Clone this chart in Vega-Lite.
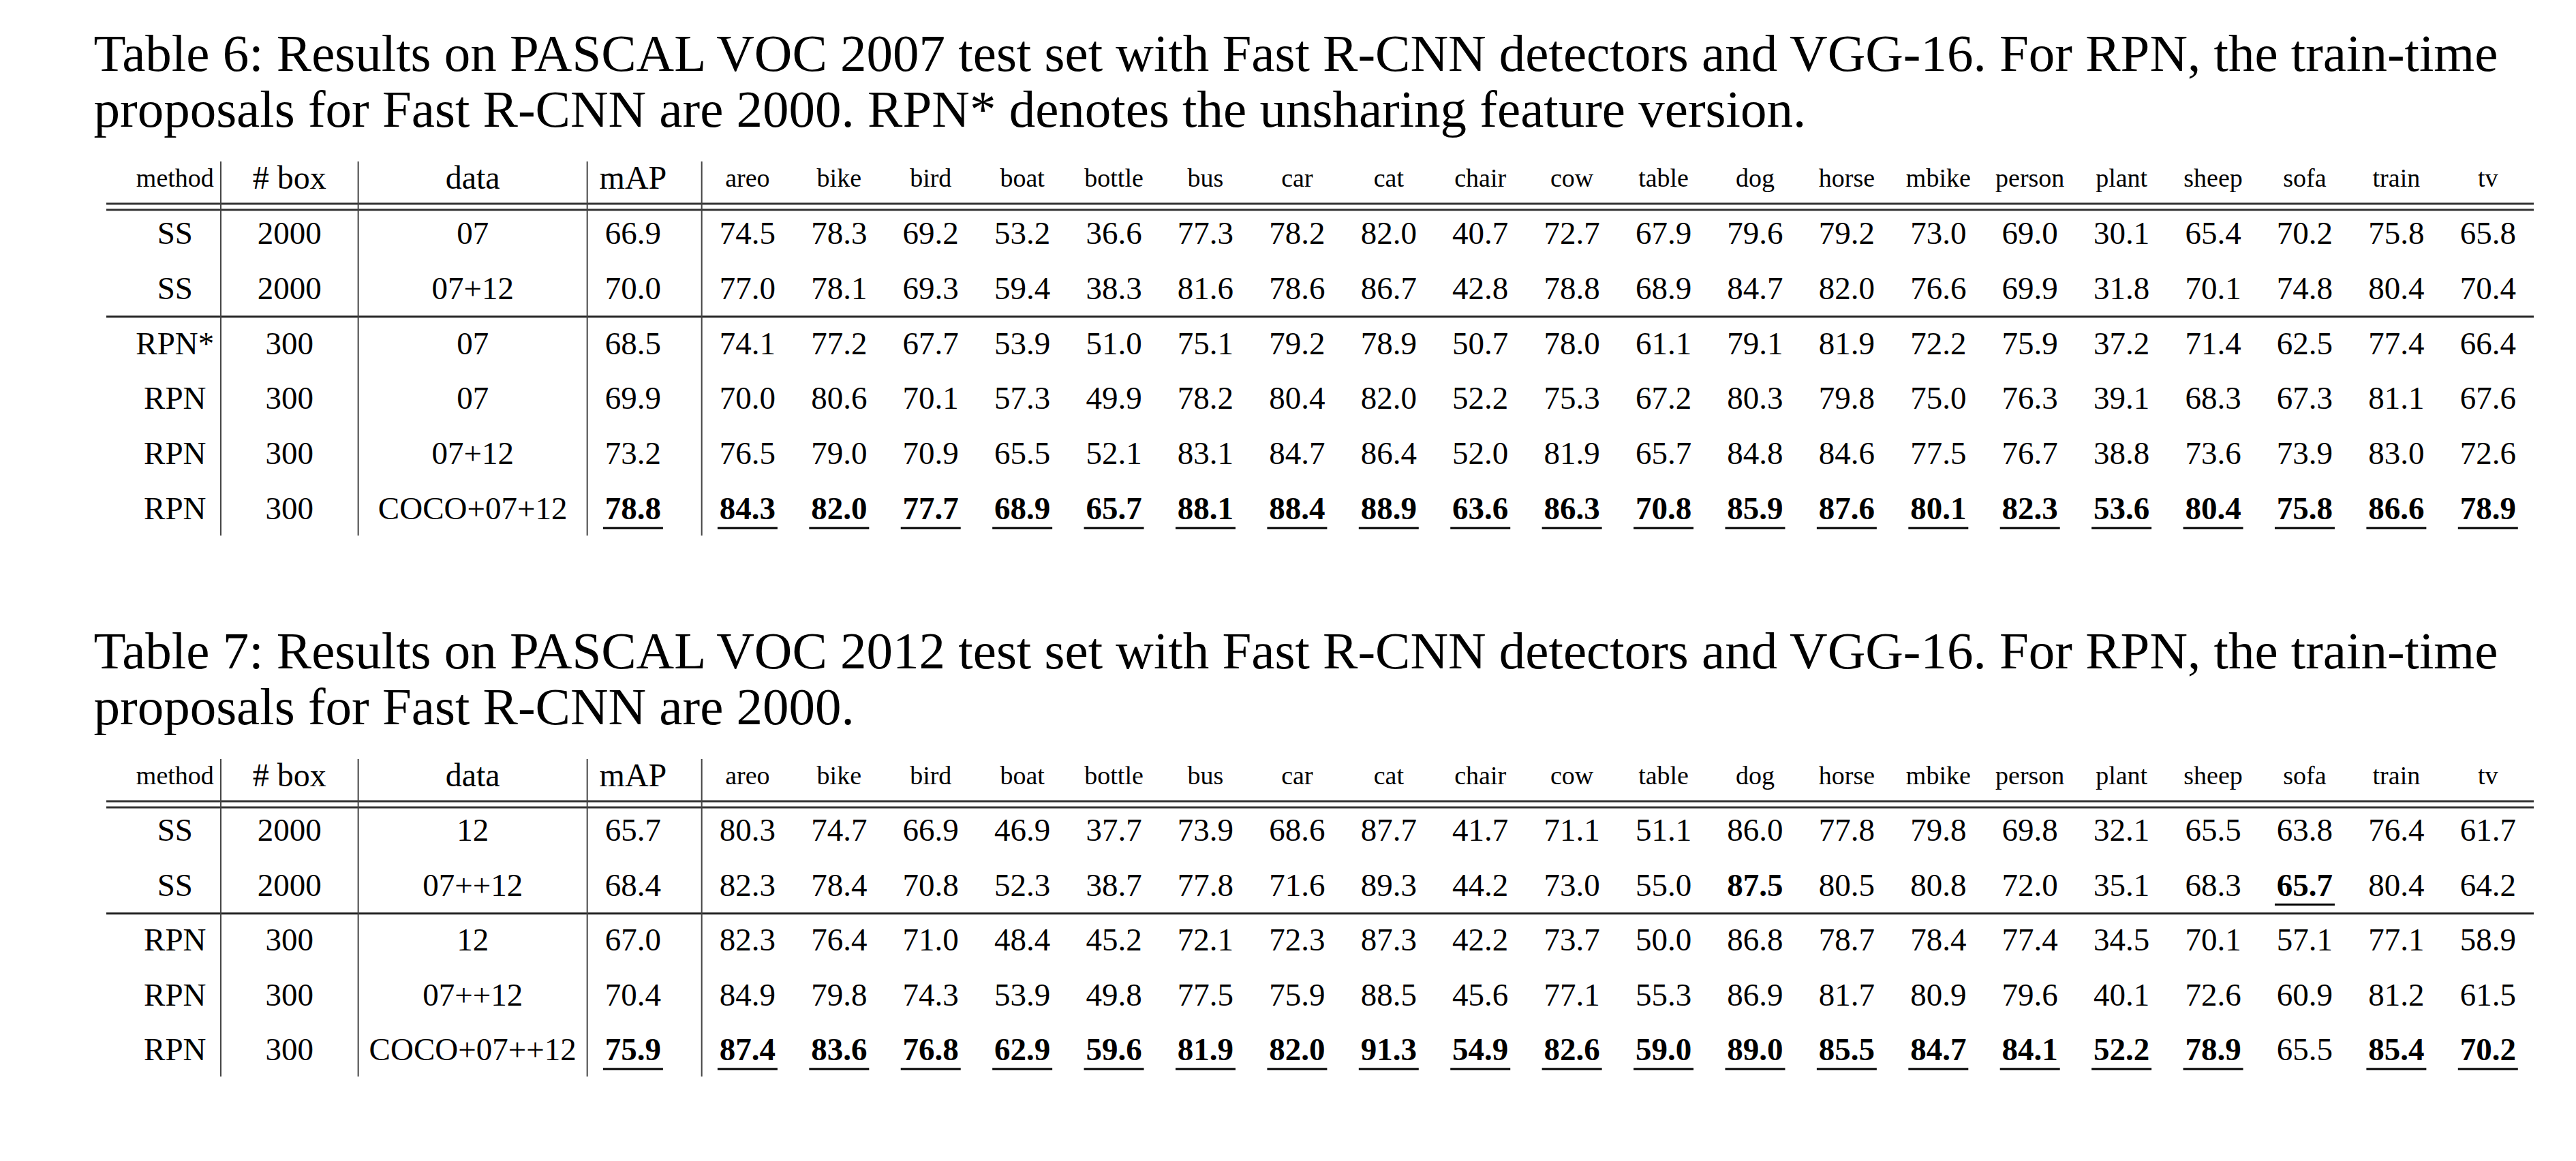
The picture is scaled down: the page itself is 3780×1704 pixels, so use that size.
{
"$schema":"https://vega.github.io/schema/vega-lite/v6.json",
"padding":{"left":137,"top":42,"right":40,"bottom":10},
"background":"white",
"config":{"view":{"stroke":null},"text":{"font":"Liberation Serif","color":"black"},"title":{"font":"Liberation Serif","fontSize":77,"fontWeight":"normal","color":"black","anchor":"start","lineHeight":82,"offset":34,"dx":-17}},
"spacing":132,
"datasets":{
"cols":[{"key":"method","label":"method"},{"key":"box","label":"# box"},{"key":"data","label":"data"},{"key":"mAP","label":"mAP"},{"key":"areo","label":"areo"},{"key":"bike","label":"bike"},{"key":"bird","label":"bird"},{"key":"boat","label":"boat"},{"key":"bottle","label":"bottle"},{"key":"bus","label":"bus"},{"key":"car","label":"car"},{"key":"cat","label":"cat"},{"key":"chair","label":"chair"},{"key":"cow","label":"cow"},{"key":"table","label":"table"},{"key":"dog","label":"dog"},{"key":"horse","label":"horse"},{"key":"mbike","label":"mbike"},{"key":"person","label":"person"},{"key":"plant","label":"plant"},{"key":"sheep","label":"sheep"},{"key":"sofa","label":"sofa"},{"key":"train","label":"train"},{"key":"tv","label":"tv"}],
"seps":[{"v":"v1"},{"v":"v2"},{"v":"v3"},{"v":"v4"}],
"t6":[
{"row":"r1","method":"SS","box":"2000","data":"07","mAP":"66.9","areo":"74.5","bike":"78.3","bird":"69.2","boat":"53.2","bottle":"36.6","bus":"77.3","car":"78.2","cat":"82.0","chair":"40.7","cow":"72.7","table":"67.9","dog":"79.6","horse":"79.2","mbike":"73.0","person":"69.0","plant":"30.1","sheep":"65.4","sofa":"70.2","train":"75.8","tv":"65.8","best":[],"under":[]},
{"row":"r2","method":"SS","box":"2000","data":"07+12","mAP":"70.0","areo":"77.0","bike":"78.1","bird":"69.3","boat":"59.4","bottle":"38.3","bus":"81.6","car":"78.6","cat":"86.7","chair":"42.8","cow":"78.8","table":"68.9","dog":"84.7","horse":"82.0","mbike":"76.6","person":"69.9","plant":"31.8","sheep":"70.1","sofa":"74.8","train":"80.4","tv":"70.4","best":[],"under":[]},
{"row":"r3","method":"RPN*","box":"300","data":"07","mAP":"68.5","areo":"74.1","bike":"77.2","bird":"67.7","boat":"53.9","bottle":"51.0","bus":"75.1","car":"79.2","cat":"78.9","chair":"50.7","cow":"78.0","table":"61.1","dog":"79.1","horse":"81.9","mbike":"72.2","person":"75.9","plant":"37.2","sheep":"71.4","sofa":"62.5","train":"77.4","tv":"66.4","best":[],"under":[]},
{"row":"r4","method":"RPN","box":"300","data":"07","mAP":"69.9","areo":"70.0","bike":"80.6","bird":"70.1","boat":"57.3","bottle":"49.9","bus":"78.2","car":"80.4","cat":"82.0","chair":"52.2","cow":"75.3","table":"67.2","dog":"80.3","horse":"79.8","mbike":"75.0","person":"76.3","plant":"39.1","sheep":"68.3","sofa":"67.3","train":"81.1","tv":"67.6","best":[],"under":[]},
{"row":"r5","method":"RPN","box":"300","data":"07+12","mAP":"73.2","areo":"76.5","bike":"79.0","bird":"70.9","boat":"65.5","bottle":"52.1","bus":"83.1","car":"84.7","cat":"86.4","chair":"52.0","cow":"81.9","table":"65.7","dog":"84.8","horse":"84.6","mbike":"77.5","person":"76.7","plant":"38.8","sheep":"73.6","sofa":"73.9","train":"83.0","tv":"72.6","best":[],"under":[]},
{"row":"r6","method":"RPN","box":"300","data":"COCO+07+12","mAP":"78.8","areo":"84.3","bike":"82.0","bird":"77.7","boat":"68.9","bottle":"65.7","bus":"88.1","car":"88.4","cat":"88.9","chair":"63.6","cow":"86.3","table":"70.8","dog":"85.9","horse":"87.6","mbike":"80.1","person":"82.3","plant":"53.6","sheep":"80.4","sofa":"75.8","train":"86.6","tv":"78.9",
 "best":["mAP","areo","bike","bird","boat","bottle","bus","car","cat","chair","cow","table","dog","horse","mbike","person","plant","sheep","sofa","train","tv"],
 "under":["mAP","areo","bike","bird","boat","bottle","bus","car","cat","chair","cow","table","dog","horse","mbike","person","plant","sheep","sofa","train","tv"]}
],
"t7":[
{"row":"r1","method":"SS","box":"2000","data":"12","mAP":"65.7","areo":"80.3","bike":"74.7","bird":"66.9","boat":"46.9","bottle":"37.7","bus":"73.9","car":"68.6","cat":"87.7","chair":"41.7","cow":"71.1","table":"51.1","dog":"86.0","horse":"77.8","mbike":"79.8","person":"69.8","plant":"32.1","sheep":"65.5","sofa":"63.8","train":"76.4","tv":"61.7","best":[],"under":[]},
{"row":"r2","method":"SS","box":"2000","data":"07++12","mAP":"68.4","areo":"82.3","bike":"78.4","bird":"70.8","boat":"52.3","bottle":"38.7","bus":"77.8","car":"71.6","cat":"89.3","chair":"44.2","cow":"73.0","table":"55.0","dog":"87.5","horse":"80.5","mbike":"80.8","person":"72.0","plant":"35.1","sheep":"68.3","sofa":"65.7","train":"80.4","tv":"64.2","best":["dog","sofa"],"under":["sofa"]},
{"row":"r3","method":"RPN","box":"300","data":"12","mAP":"67.0","areo":"82.3","bike":"76.4","bird":"71.0","boat":"48.4","bottle":"45.2","bus":"72.1","car":"72.3","cat":"87.3","chair":"42.2","cow":"73.7","table":"50.0","dog":"86.8","horse":"78.7","mbike":"78.4","person":"77.4","plant":"34.5","sheep":"70.1","sofa":"57.1","train":"77.1","tv":"58.9","best":[],"under":[]},
{"row":"r4","method":"RPN","box":"300","data":"07++12","mAP":"70.4","areo":"84.9","bike":"79.8","bird":"74.3","boat":"53.9","bottle":"49.8","bus":"77.5","car":"75.9","cat":"88.5","chair":"45.6","cow":"77.1","table":"55.3","dog":"86.9","horse":"81.7","mbike":"80.9","person":"79.6","plant":"40.1","sheep":"72.6","sofa":"60.9","train":"81.2","tv":"61.5","best":[],"under":[]},
{"row":"r5","method":"RPN","box":"300","data":"COCO+07++12","mAP":"75.9","areo":"87.4","bike":"83.6","bird":"76.8","boat":"62.9","bottle":"59.6","bus":"81.9","car":"82.0","cat":"91.3","chair":"54.9","cow":"82.6","table":"59.0","dog":"89.0","horse":"85.5","mbike":"84.7","person":"84.1","plant":"52.2","sheep":"78.9","sofa":"65.5","train":"85.4","tv":"70.2",
 "best":["mAP","areo","bike","bird","boat","bottle","bus","car","cat","chair","cow","table","dog","horse","mbike","person","plant","sheep","train","tv"],
 "under":["mAP","areo","bike","bird","boat","bottle","bus","car","cat","chair","cow","table","dog","horse","mbike","person","plant","sheep","train","tv"]}
]
},
"vconcat":[
{
"title":{"text":["Table 6: Results on PASCAL VOC 2007 test set with Fast R-CNN detectors and VGG-16. For RPN, the train-time","proposals for Fast R-CNN are 2000. RPN* denotes the unsharing feature version."]},
"width":3562,"height":485,
"encoding":{
 "x":{"field":"key","type":"nominal","axis":null,"scale":{"type":"point","padding":0,"domain":["L","s1","s2","method","s4","v1","s6","s7","box","s9","s10","v2","s12","s13","s14","s15","data","s17","s18","s19","s20","v3","s22","mAP","s24","s25","v4","s27","areo","s29","s30","s31","bike","s33","s34","s35","bird","s37","s38","s39","boat","s41","s42","s43","bottle","s45","s46","s47","bus","s49","s50","s51","car","s53","s54","s55","cat","s57","s58","s59","chair","s61","s62","s63","cow","s65","s66","s67","table","s69","s70","s71","dog","s73","s74","s75","horse","s77","s78","s79","mbike","s81","s82","s83","person","s85","s86","s87","plant","s89","s90","s91","sheep","s93","s94","s95","sofa","s97","s98","s99","train","s101","s102","s103","tv","s105","R"]}},
 "y":{"field":"row","type":"nominal","axis":null,"scale":{"type":"point","padding":0,"domain":["h","r1","r2","r3","r4","r5","r6"]}}
},
"layer":[
 {"data":{"name":"t6"},"transform":[{"fold":["method","box","data","mAP","areo","bike","bird","boat","bottle","bus","car","cat","chair","cow","table","dog","horse","mbike","person","plant","sheep","sofa","train","tv"]},{"filter":"indexof(datum.best, datum.key) < 0"}],
  "mark":{"type":"text","fontSize":47,"baseline":"middle"},"encoding":{"text":{"field":"value"}}},
 {"data":{"name":"t6"},"transform":[{"fold":["method","box","data","mAP","areo","bike","bird","boat","bottle","bus","car","cat","chair","cow","table","dog","horse","mbike","person","plant","sheep","sofa","train","tv"]},{"filter":"indexof(datum.best, datum.key) >= 0"}],
  "mark":{"type":"text","fontSize":47,"fontWeight":"bold","baseline":"middle"},"encoding":{"text":{"field":"value"}}},
 {"data":{"name":"t6"},"transform":[{"fold":["method","box","data","mAP","areo","bike","bird","boat","bottle","bus","car","cat","chair","cow","table","dog","horse","mbike","person","plant","sheep","sofa","train","tv"]},{"filter":"indexof(datum.under, datum.key) >= 0"}],
  "mark":{"type":"tick","orient":"horizontal","size":88,"thickness":3,"yOffset":27,"color":"black","opacity":1}},
 {"data":{"name":"cols"},"mark":{"type":"text","baseline":"middle"},
  "encoding":{"y":{"datum":"h","type":"nominal"},"text":{"field":"label"},"size":{"condition":{"test":"indexof(['box','data','mAP'], datum.key) >= 0","value":48},"value":38}}},
 {"data":{"values":[{}]},"mark":{"type":"rule","strokeWidth":3,"color":"#333","yOffset":36},"encoding":{"x":{"datum":"L","type":"nominal"},"x2":{"datum":"R"},"y":{"datum":"h","type":"nominal"}}},
 {"data":{"values":[{}]},"mark":{"type":"rule","strokeWidth":3,"color":"#333","yOffset":45},"encoding":{"x":{"datum":"L","type":"nominal"},"x2":{"datum":"R"},"y":{"datum":"h","type":"nominal"}}},
 {"data":{"values":[{}]},"mark":{"type":"rule","strokeWidth":3,"color":"#222","yOffset":40},"encoding":{"x":{"datum":"L","type":"nominal"},"x2":{"datum":"R"},"y":{"datum":"r2","type":"nominal"}}},
 {"data":{"name":"seps"},"mark":{"type":"rule","strokeWidth":2,"color":"#444","yOffset":-26,"y2Offset":38},"encoding":{"x":{"field":"v","type":"nominal"},"y":{"datum":"h","type":"nominal"},"y2":{"datum":"r6"}}}
]
},
{
"title":{"text":["Table 7: Results on PASCAL VOC 2012 test set with Fast R-CNN detectors and VGG-16. For RPN, the train-time","proposals for Fast R-CNN are 2000."]},
"width":3562,"height":402,
"encoding":{
 "x":{"field":"key","type":"nominal","axis":null,"scale":{"type":"point","padding":0,"domain":["L","s1","s2","method","s4","v1","s6","s7","box","s9","s10","v2","s12","s13","s14","s15","data","s17","s18","s19","s20","v3","s22","mAP","s24","s25","v4","s27","areo","s29","s30","s31","bike","s33","s34","s35","bird","s37","s38","s39","boat","s41","s42","s43","bottle","s45","s46","s47","bus","s49","s50","s51","car","s53","s54","s55","cat","s57","s58","s59","chair","s61","s62","s63","cow","s65","s66","s67","table","s69","s70","s71","dog","s73","s74","s75","horse","s77","s78","s79","mbike","s81","s82","s83","person","s85","s86","s87","plant","s89","s90","s91","sheep","s93","s94","s95","sofa","s97","s98","s99","train","s101","s102","s103","tv","s105","R"]}},
 "y":{"field":"row","type":"nominal","axis":null,"scale":{"type":"point","padding":0,"domain":["h","r1","r2","r3","r4","r5"]}}
},
"layer":[
 {"data":{"name":"t7"},"transform":[{"fold":["method","box","data","mAP","areo","bike","bird","boat","bottle","bus","car","cat","chair","cow","table","dog","horse","mbike","person","plant","sheep","sofa","train","tv"]},{"filter":"indexof(datum.best, datum.key) < 0"}],
  "mark":{"type":"text","fontSize":47,"baseline":"middle"},"encoding":{"text":{"field":"value"}}},
 {"data":{"name":"t7"},"transform":[{"fold":["method","box","data","mAP","areo","bike","bird","boat","bottle","bus","car","cat","chair","cow","table","dog","horse","mbike","person","plant","sheep","sofa","train","tv"]},{"filter":"indexof(datum.best, datum.key) >= 0"}],
  "mark":{"type":"text","fontSize":47,"fontWeight":"bold","baseline":"middle"},"encoding":{"text":{"field":"value"}}},
 {"data":{"name":"t7"},"transform":[{"fold":["method","box","data","mAP","areo","bike","bird","boat","bottle","bus","car","cat","chair","cow","table","dog","horse","mbike","person","plant","sheep","sofa","train","tv"]},{"filter":"indexof(datum.under, datum.key) >= 0"}],
  "mark":{"type":"tick","orient":"horizontal","size":88,"thickness":3,"yOffset":27,"color":"black","opacity":1}},
 {"data":{"name":"cols"},"mark":{"type":"text","baseline":"middle"},
  "encoding":{"y":{"datum":"h","type":"nominal"},"text":{"field":"label"},"size":{"condition":{"test":"indexof(['box','data','mAP'], datum.key) >= 0","value":48},"value":38}}},
 {"data":{"values":[{}]},"mark":{"type":"rule","strokeWidth":3,"color":"#333","yOffset":36},"encoding":{"x":{"datum":"L","type":"nominal"},"x2":{"datum":"R"},"y":{"datum":"h","type":"nominal"}}},
 {"data":{"values":[{}]},"mark":{"type":"rule","strokeWidth":3,"color":"#333","yOffset":45},"encoding":{"x":{"datum":"L","type":"nominal"},"x2":{"datum":"R"},"y":{"datum":"h","type":"nominal"}}},
 {"data":{"values":[{}]},"mark":{"type":"rule","strokeWidth":3,"color":"#222","yOffset":40},"encoding":{"x":{"datum":"L","type":"nominal"},"x2":{"datum":"R"},"y":{"datum":"r2","type":"nominal"}}},
 {"data":{"name":"seps"},"mark":{"type":"rule","strokeWidth":2,"color":"#444","yOffset":-26,"y2Offset":38},"encoding":{"x":{"field":"v","type":"nominal"},"y":{"datum":"h","type":"nominal"},"y2":{"datum":"r5"}}}
]
}
]
}
